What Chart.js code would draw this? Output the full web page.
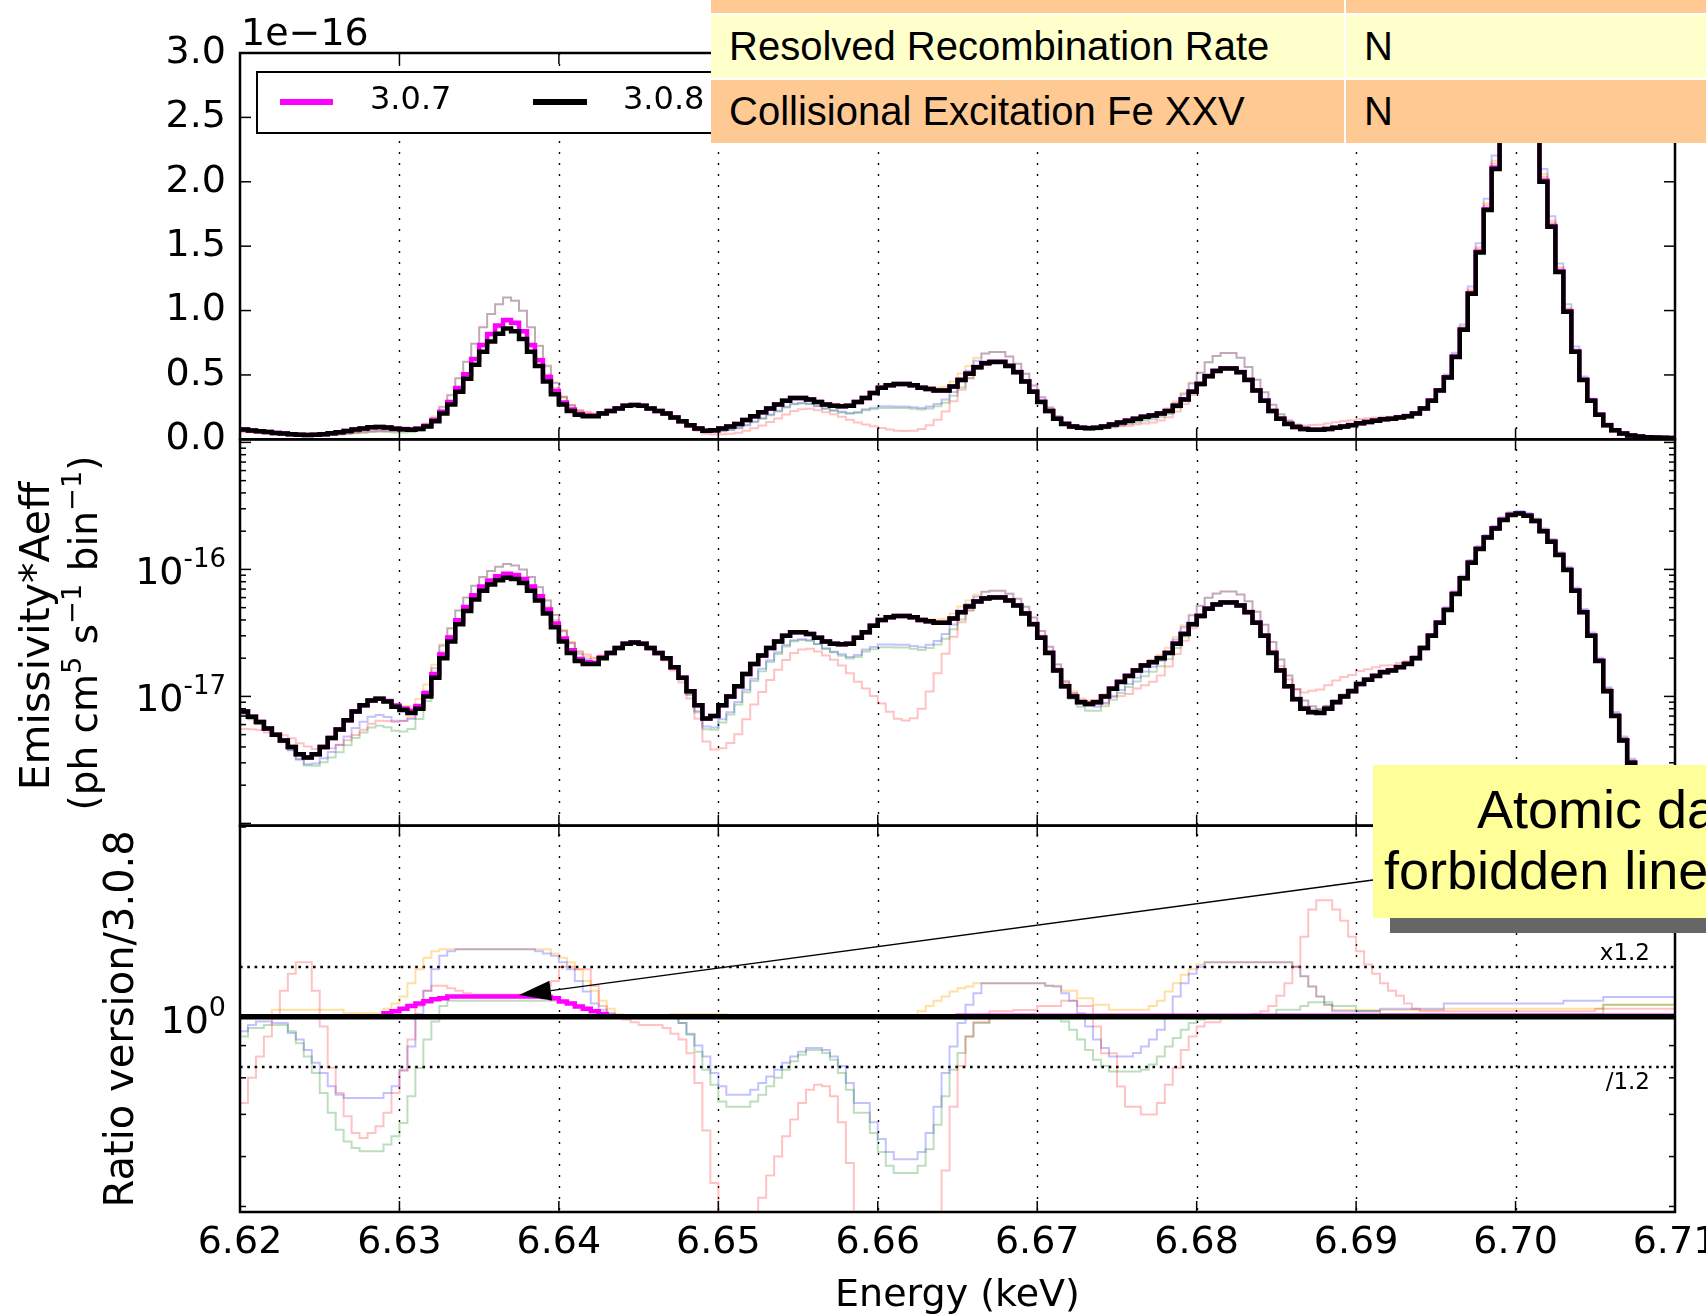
<!DOCTYPE html>
<html>
<head>
<meta charset="utf-8">
<script src="https://cdn.jsdelivr.net/npm/chart.js@4.4.1/dist/chart.umd.min.js"></script>
<style>
  html, body { margin: 0; padding: 0; background: #fff; }
  body { position: relative; width: 1706px; height: 1314px; overflow: hidden; }
  #spec { position: absolute; left: 0; top: 0; }
  .backdrop { position: absolute; background: #fff; }
  .cell { position: absolute; box-sizing: border-box; padding-left: 18px; display: flex; align-items: center;
          font-family: "Liberation Sans", Arial, sans-serif; font-size: 40px; color: #000; white-space: nowrap; }
  .or { background: #ffc994; }
  .ye { background: #ffffcc; }
  .note { position: absolute; background: #ffff99; overflow: visible; }
  .note div { position: absolute; font-family: "Liberation Sans", Arial, sans-serif; font-size: 54px; line-height: 54px; white-space: nowrap; color: #000; }
  .shadow { position: absolute; background: #666; }
</style>
</head>
<body>
<canvas id="spec" width="1706" height="1314"></canvas>

<div class="backdrop" style="left:711px;top:0;width:995px;height:143px"></div>
<div class="cell or" style="left:711px;top:0;width:633px;height:13px"></div>
<div class="cell or" style="left:1346px;top:0;width:360px;height:13px"></div>
<div class="cell ye" style="left:711px;top:15px;width:633px;height:63px">Resolved Recombination Rate</div>
<div class="cell ye" style="left:1346px;top:15px;width:360px;height:63px">N</div>
<div class="cell or" style="left:711px;top:80px;width:633px;height:63px">Collisional Excitation Fe XXV</div>
<div class="cell or" style="left:1346px;top:80px;width:360px;height:63px">N</div>

<div class="shadow" style="left:1390px;top:918px;width:330px;height:15px"></div>
<div class="note" style="left:1373px;top:765px;width:340px;height:153px">
  <div style="left:104px;top:17px">Atomic data</div>
  <div style="left:11px;top:78px">forbidden line</div>
</div>

<script>
// energy bins (keV), 0.5 eV wide
const binStart = 6.62;
const binWidth = 0.0005;
const xTicks = [6.62, 6.63, 6.64, 6.65, 6.66, 6.67, 6.68, 6.69, 6.70, 6.71];
const topTicks = [0, 0.5, 1, 1.5, 2, 2.5, 3];
const ratioGuides = [1.2, 1 / 1.2];

// 3.0.8 emissivity*Aeff per bin, in units of 1e-16 ph cm^5 s^-1 bin^-1
const emis308 = [
  0.076, 0.069, 0.063, 0.056, 0.050, 0.045, 0.040, 0.035, 0.033, 0.035,
  0.040, 0.047, 0.055, 0.065, 0.076, 0.085, 0.093, 0.096, 0.091, 0.083,
  0.078, 0.074, 0.080, 0.100, 0.140, 0.200, 0.270, 0.370, 0.470, 0.580,
  0.680, 0.760, 0.820, 0.860, 0.840, 0.780, 0.680, 0.570, 0.450, 0.350,
  0.270, 0.220, 0.190, 0.180, 0.180, 0.200, 0.220, 0.240, 0.260, 0.266,
  0.260, 0.240, 0.220, 0.200, 0.170, 0.140, 0.110, 0.085, 0.067, 0.070,
  0.085, 0.100, 0.120, 0.150, 0.180, 0.210, 0.240, 0.270, 0.300, 0.320,
  0.320, 0.310, 0.290, 0.270, 0.260, 0.257, 0.260, 0.290, 0.320, 0.360,
  0.400, 0.420, 0.430, 0.430, 0.420, 0.400, 0.390, 0.380, 0.380, 0.410,
  0.460, 0.510, 0.560, 0.590, 0.600, 0.600, 0.570, 0.520, 0.450, 0.370,
  0.290, 0.220, 0.160, 0.120, 0.100, 0.090, 0.087, 0.090, 0.100, 0.115,
  0.130, 0.145, 0.160, 0.175, 0.186, 0.200, 0.220, 0.260, 0.310, 0.370,
  0.430, 0.490, 0.530, 0.550, 0.550, 0.520, 0.460, 0.380, 0.300, 0.220,
  0.160, 0.120, 0.095, 0.080, 0.075, 0.074, 0.080, 0.090, 0.100, 0.110,
  0.125, 0.135, 0.145, 0.155, 0.160, 0.170, 0.180, 0.200, 0.240, 0.300,
  0.380, 0.480, 0.640, 0.850, 1.130, 1.450, 1.780, 2.100, 2.450, 2.680,
  2.750, 2.650, 2.400, 2.000, 1.650, 1.300, 0.990, 0.680, 0.460, 0.300,
  0.190, 0.110, 0.070, 0.045, 0.030, 0.022, 0.017, 0.014, 0.012, 0.011
];

// ratio version / 3.0.8 per bin
const ratio307 = [
  1.00, 1.00, 1.00, 1.00, 1.00, 1.00, 1.00, 1.00, 1.00, 1.00,
  1.00, 1.00, 1.00, 1.00, 1.00, 1.00, 1.00, 1.00, 1.013, 1.02,
  1.03, 1.04, 1.05, 1.058, 1.066, 1.07, 1.077, 1.077, 1.077, 1.077,
  1.077, 1.077, 1.077, 1.077, 1.077, 1.077, 1.077, 1.077, 1.075, 1.07,
  1.057, 1.05, 1.038, 1.03, 1.02, 1.01, 1.00, 1.00, 1.00, 1.00,
  1.00, 1.00, 1.00, 1.00, 1.00, 1.00, 1.00, 1.00, 1.00, 1.00,
  1.00, 1.00, 1.00, 1.00, 1.00, 1.00, 1.00, 1.00, 1.00, 1.00,
  1.00, 1.00, 1.00, 1.00, 1.00, 1.00, 1.00, 1.00, 1.00, 1.00,
  1.00, 1.00, 1.00, 1.00, 1.00, 1.00, 1.00, 1.00, 1.00, 1.00,
  1.004, 1.004, 1.004, 1.004, 1.004, 1.004, 1.004, 1.004, 1.004, 1.004,
  1.004, 1.004, 1.004, 1.004, 1.004, 1.004, 1.004, 1.004, 1.004, 1.004,
  1.004, 1.004, 1.004, 1.004, 1.004, 1.004, 1.004, 1.004, 1.004, 1.004,
  1.004, 1.004, 1.004, 1.004, 1.004, 1.004, 1.004, 1.004, 1.004, 1.004,
  1.004, 1.004, 1.004, 1.004, 1.004, 1.004, 1.004, 1.004, 1.004, 1.004,
  1.004, 1.004, 1.004, 1.004, 1.004, 1.004, 1.004, 1.004, 1.004, 1.004,
  1.004, 1.004, 1.004, 1.004, 1.004, 1.004, 1.004, 1.004, 1.004, 1.004,
  1.004, 1.004, 1.004, 1.004, 1.004, 1.004, 1.004, 1.004, 1.004, 1.004,
  1.004, 1.004, 1.004, 1.004, 1.004, 1.004, 1.004, 1.004, 1.004, 1.004
];

const ratioPink = [
  0.73, 0.80, 0.865, 0.93, 1.00, 1.10, 1.17, 1.22, 1.22, 1.10,
  0.965, 0.83, 0.757, 0.695, 0.654, 0.642, 0.654, 0.67, 0.704, 0.757,
  0.82, 0.92, 1.04, 1.10, 1.12, 1.12, 1.11, 1.10, 1.09, 1.085,
  1.085, 1.085, 1.085, 1.085, 1.085, 1.085, 1.09, 1.10, 1.12, 1.14,
  1.20, 1.20, 1.19, 1.19, 1.12, 1.04, 1.01, 1.00, 0.99, 0.98,
  0.97, 0.97, 0.97, 0.96, 0.94, 0.92, 0.875, 0.785, 0.66, 0.545,
  0.46, 0.43, 0.42, 0.44, 0.48, 0.516, 0.56, 0.60, 0.646, 0.687,
  0.73, 0.766, 0.78, 0.776, 0.748, 0.68, 0.586, 0.45, 0.36, 0.28,
  0.22, 0.18, 0.155, 0.15, 0.16, 0.20, 0.28, 0.40, 0.57, 0.72,
  0.835, 0.93, 0.98, 0.98, 1.02, 1.02, 1.02, 1.025, 1.025, 1.025,
  1.04, 1.04, 1.04, 1.06, 1.06, 1.04, 1.04, 0.965, 0.875, 0.875,
  0.775, 0.72, 0.72, 0.70, 0.70, 0.73, 0.78, 0.83, 0.886, 0.93,
  0.965, 0.98, 0.98, 1.00, 1.00, 1.00, 1.00, 1.01, 1.02, 1.04,
  1.08, 1.13, 1.20, 1.34, 1.48, 1.53, 1.53, 1.48, 1.42, 1.34,
  1.27, 1.21, 1.17, 1.13, 1.10, 1.08, 1.05, 1.03, 1.02, 1.02,
  1.02, 1.02, 1.02, 1.02, 1.02, 1.02, 1.02, 1.02, 1.02, 1.02,
  1.02, 1.02, 1.02, 1.02, 1.02, 1.02, 1.02, 1.02, 1.02, 1.02,
  1.03, 1.03, 1.03, 1.03, 1.03, 1.03, 1.03, 1.03, 1.03, 1.03
];

const ratioBlue = [
  0.948, 0.97, 0.983, 0.983, 0.977, 0.977, 0.942, 0.92, 0.886, 0.845,
  0.814, 0.776, 0.752, 0.743, 0.743, 0.743, 0.743, 0.743, 0.757, 0.776,
  0.824, 0.897, 1.01, 1.10, 1.19, 1.25, 1.27, 1.28, 1.28, 1.28,
  1.28, 1.28, 1.28, 1.28, 1.28, 1.28, 1.28, 1.27, 1.26, 1.25,
  1.22, 1.19, 1.14, 1.097, 1.05, 1.026, 1.013, 1.00, 1.00, 1.00,
  0.995, 0.995, 0.995, 0.995, 0.995, 0.977, 0.94, 0.90, 0.865, 0.814,
  0.776, 0.752, 0.752, 0.752, 0.766, 0.785, 0.804, 0.824, 0.845, 0.865,
  0.88, 0.892, 0.892, 0.886, 0.865, 0.835, 0.785, 0.73, 0.73, 0.68,
  0.64, 0.61, 0.594, 0.594, 0.594, 0.61, 0.654, 0.72, 0.814, 0.897,
  0.977, 1.045, 1.09, 1.13, 1.13, 1.13, 1.13, 1.13, 1.13, 1.13,
  1.13, 1.12, 1.117, 1.09, 1.06, 1.013, 0.965, 0.92, 0.892, 0.865,
  0.865, 0.865, 0.876, 0.897, 0.92, 0.954, 1.00, 1.077, 1.13, 1.17,
  1.20, 1.22, 1.22, 1.22, 1.22, 1.22, 1.22, 1.22, 1.22, 1.22,
  1.22, 1.22, 1.20, 1.16, 1.117, 1.077, 1.045, 1.02, 1.02, 1.02,
  1.02, 1.02, 1.02, 1.03, 1.03, 1.03, 1.03, 1.03, 1.03, 1.03,
  1.03, 1.05, 1.05, 1.05, 1.05, 1.05, 1.05, 1.05, 1.05, 1.05,
  1.05, 1.05, 1.05, 1.05, 1.05, 1.05, 1.06, 1.06, 1.06, 1.06,
  1.06, 1.075, 1.075, 1.075, 1.075, 1.075, 1.075, 1.075, 1.075, 1.075
];

const ratioGreen = [
  0.93, 0.96, 0.96, 0.97, 0.97, 0.97, 0.948, 0.908, 0.865, 0.814,
  0.757, 0.704, 0.662, 0.634, 0.619, 0.612, 0.612, 0.612, 0.627, 0.646,
  0.678, 0.748, 0.829, 0.92, 0.983, 1.04, 1.06, 1.06, 1.06, 1.06,
  1.06, 1.06, 1.06, 1.06, 1.06, 1.06, 1.06, 1.06, 1.06, 1.06,
  1.06, 1.05, 1.04, 1.03, 1.02, 1.00, 1.00, 1.00, 1.00, 1.00,
  0.995, 0.995, 0.995, 0.995, 0.995, 0.977, 0.936, 0.88, 0.824, 0.78,
  0.734, 0.72, 0.72, 0.72, 0.734, 0.752, 0.776, 0.80, 0.824, 0.85,
  0.87, 0.886, 0.886, 0.876, 0.855, 0.814, 0.766, 0.704, 0.704, 0.654,
  0.61, 0.58, 0.565, 0.565, 0.565, 0.58, 0.616, 0.674, 0.748, 0.824,
  0.876, 0.93, 0.977, 0.977, 1.00, 1.00, 1.00, 1.00, 1.00, 1.00,
  1.00, 1.00, 1.00, 0.983, 0.954, 0.92, 0.886, 0.855, 0.835, 0.819,
  0.819, 0.819, 0.819, 0.824, 0.84, 0.865, 0.897, 0.925, 0.954, 0.977,
  0.99, 1.005, 1.005, 1.005, 1.005, 1.005, 1.005, 1.005, 1.005, 1.005,
  1.026, 1.026, 1.026, 1.04, 1.054, 1.054, 1.054, 1.04, 1.04, 1.04,
  1.02, 1.02, 1.02, 1.01, 1.01, 1.01, 1.01, 1.01, 1.01, 1.01,
  1.01, 1.01, 1.01, 1.01, 1.01, 1.01, 1.01, 1.01, 1.01, 1.01,
  1.01, 1.01, 1.01, 1.01, 1.01, 1.01, 1.01, 1.01, 1.01, 1.01,
  1.01, 1.045, 1.045, 1.045, 1.045, 1.045, 1.045, 1.045, 1.045, 1.045
];

const ratioOrange = [
  1.00, 1.00, 1.00, 1.00, 1.026, 1.026, 1.026, 1.026, 1.026, 1.026,
  1.026, 1.026, 1.026, 1.013, 1.013, 1.013, 1.013, 1.013, 1.03, 1.05,
  1.077, 1.13, 1.19, 1.24, 1.27, 1.28, 1.28, 1.28, 1.28, 1.28,
  1.28, 1.28, 1.28, 1.28, 1.28, 1.28, 1.28, 1.28, 1.28, 1.26,
  1.24, 1.22, 1.19, 1.14, 1.10, 1.06, 1.03, 1.01, 1.00, 1.00,
  1.00, 1.00, 1.00, 1.00, 1.01, 1.01, 1.01, 1.01, 1.01, 1.01,
  1.01, 1.00, 1.00, 1.00, 1.00, 1.00, 1.00, 1.00, 1.00, 1.00,
  1.00, 1.00, 1.00, 1.00, 1.00, 1.00, 1.00, 1.00, 1.00, 1.00,
  1.00, 1.00, 1.00, 1.00, 1.00, 1.02, 1.04, 1.06, 1.077, 1.097,
  1.11, 1.117, 1.13, 1.13, 1.13, 1.13, 1.13, 1.13, 1.13, 1.13,
  1.13, 1.12, 1.12, 1.10, 1.10, 1.07, 1.07, 1.045, 1.045, 1.026,
  1.026, 1.026, 1.026, 1.026, 1.04, 1.06, 1.097, 1.13, 1.166, 1.19,
  1.21, 1.22, 1.22, 1.22, 1.22, 1.22, 1.22, 1.22, 1.22, 1.22,
  1.22, 1.22, 1.20, 1.16, 1.117, 1.077, 1.045, 1.025, 1.025, 1.025,
  1.025, 1.025, 1.025, 1.025, 1.025, 1.025, 1.025, 1.025, 1.025, 1.025,
  1.025, 1.03, 1.03, 1.03, 1.03, 1.03, 1.03, 1.03, 1.03, 1.03,
  1.03, 1.03, 1.03, 1.03, 1.03, 1.03, 1.03, 1.03, 1.03, 1.03,
  1.03, 1.045, 1.045, 1.045, 1.045, 1.045, 1.045, 1.045, 1.045, 1.045
];

// where the annotation arrow points (energy, ratio)
const arrowTip = [6.6375, 1.083];

Chart.defaults.font.family = '"DejaVu Sans", sans-serif';
Chart.defaults.color = '#000';

const edges = emis308.map((_, i) => +(binStart + i * binWidth).toFixed(4));
edges.push(+(binStart + emis308.length * binWidth).toFixed(4));

// histogram steps: value held from the left edge of each bin to the next edge
function steps(vals) {
  const pts = vals.map((v, i) => ({ x: edges[i], y: v }));
  pts.push({ x: edges[vals.length], y: vals[vals.length - 1] });
  return pts;
}

const ones = emis308.map(() => 1);
const series = [
  { ratio: ones, color: '#000000', width: [4.5, 4.5, 5.5], order: 0 },
  { ratio: ratio307, color: '#ff00ff', width: [4.5, 4.5, 4.5], order: 1 },
  { ratio: ratioPink, color: 'rgba(255,0,0,0.24)', width: [2, 2, 2], order: 2 },
  { ratio: ratioGreen, color: 'rgba(0,128,0,0.26)', width: [2, 2, 2], order: 3 },
  { ratio: ratioBlue, color: 'rgba(0,0,255,0.24)', width: [2, 2, 2], order: 4 },
  { ratio: ratioOrange, color: 'rgba(255,165,0,0.36)', width: [2, 2, 2], order: 5 },
];

const datasets = [];
series.forEach((s) => {
  const emis = emis308.map((v, i) => v * s.ratio[i]);
  [['yTop', emis], ['yMid', emis], ['yBot', s.ratio]].forEach(([axis, vals], k) => {
    datasets.push({
      data: steps(vals),
      yAxisID: axis,
      borderColor: s.color,
      borderWidth: s.width[k],
      order: s.order,
      stepped: 'before',
      pointRadius: 0,
      fill: false,
      tension: 0,
    });
  });
});

const fontStr = (size) => `${size}px "DejaVu Sans", sans-serif`;

function strokeLine(ctx, x0, y0, x1, y1) {
  ctx.beginPath();
  ctx.moveTo(x0, y0);
  ctx.lineTo(x1, y1);
  ctx.stroke();
}

// "10" with a raised exponent, right-aligned
function powerLabel(ctx, right, py, exp, baseSize, expSize, baseDy, expDy) {
  ctx.textAlign = 'left';
  ctx.textBaseline = 'alphabetic';
  ctx.font = fontStr(expSize);
  const we = ctx.measureText(exp).width;
  ctx.fillText(exp, right - we, py + expDy);
  ctx.font = fontStr(baseSize);
  const wb = ctx.measureText('10').width;
  ctx.fillText('10', right - we - wb, py + baseDy);
}

// rotated text made of plain / superscript pieces, centred on (cx, cy)
function verticalText(ctx, cx, cy, parts, size) {
  ctx.save();
  ctx.translate(cx, cy);
  ctx.rotate(-Math.PI / 2);
  ctx.textAlign = 'left';
  ctx.textBaseline = 'alphabetic';
  const widths = parts.map(([t, sup]) => {
    ctx.font = fontStr(sup ? size * 0.7 : size);
    return ctx.measureText(t).width;
  });
  let px = -widths.reduce((a, b) => a + b, 0) / 2;
  parts.forEach(([t, sup], k) => {
    ctx.font = fontStr(sup ? size * 0.7 : size);
    ctx.fillText(t, px, sup ? -size * 0.06 : size * 0.36);
    px += widths[k];
  });
  ctx.restore();
}

const decor = {
  id: 'decor',
  beforeDatasetsDraw(chart) {
    const { ctx, chartArea: a, scales: { x, yBot } } = chart;
    ctx.save();
    ctx.strokeStyle = '#000';
    ctx.lineWidth = 1.4;
    ctx.setLineDash([2, 9]);
    xTicks.slice(1, -1).forEach((v) => {
      const px = Math.round(x.getPixelForValue(v)) + 0.5;
      strokeLine(ctx, px, a.top, px, a.bottom);
    });
    ctx.lineWidth = 2.6;
    ctx.setLineDash([2.6, 4.7]);
    ratioGuides.forEach((r) => {
      const py = Math.round(yBot.getPixelForValue(r));
      strokeLine(ctx, a.left, py, a.right, py);
    });
    ctx.restore();
  },
  afterDatasetsDraw(chart) {
    const { ctx, chartArea: a, scales } = chart;
    const { x, yTop, yMid, yBot } = scales;
    const panels = [yTop, yMid, yBot];
    ctx.save();
    ctx.strokeStyle = '#000';
    ctx.setLineDash([]);
    ctx.lineWidth = 1.5;
    panels.forEach((s) => {
      xTicks.forEach((v) => {
        const px = x.getPixelForValue(v);
        strokeLine(ctx, px, s.top, px, s.top + 11);
        strokeLine(ctx, px, s.bottom, px, s.bottom - 11);
      });
    });
    const yTick = (s, v, len) => {
      const py = s.getPixelForValue(v);
      if (py < s.top - 0.5 || py > s.bottom + 0.5) return;
      strokeLine(ctx, a.left, py, a.left + len, py);
      strokeLine(ctx, a.right, py, a.right - len, py);
    };
    topTicks.forEach((v) => yTick(yTop, v, 11));
    [0.01, 0.1, 1, 10].forEach((d) => {
      yTick(yMid, d, 11);
      [2, 3, 4, 5, 6, 7, 8, 9].forEach((m) => yTick(yMid, d * m, 6));
    });
    yTick(yBot, 1, 11);
    [0.5, 0.6, 0.7, 0.8, 0.9, 2].forEach((v) => yTick(yBot, v, 6));
    ctx.lineWidth = 2.5;
    panels.forEach((s) => ctx.strokeRect(a.left, s.top, a.right - a.left, s.bottom - s.top));

    // annotation arrow
    const tx = x.getPixelForValue(arrowTip[0]);
    const ty = yBot.getPixelForValue(arrowTip[1]);
    const sx = 1373, sy = 880;
    const ang = Math.atan2(sy - ty, sx - tx);
    const hl = 32, hw = 10;
    const bx = tx + hl * Math.cos(ang), by = ty + hl * Math.sin(ang);
    ctx.lineWidth = 1.3;
    strokeLine(ctx, sx, sy, bx, by);
    ctx.fillStyle = '#000';
    ctx.beginPath();
    ctx.moveTo(tx, ty);
    ctx.lineTo(bx - hw * Math.sin(ang), by + hw * Math.cos(ang));
    ctx.lineTo(bx + hw * Math.sin(ang), by - hw * Math.cos(ang));
    ctx.closePath();
    ctx.fill();
    ctx.restore();
  },
  afterDraw(chart) {
    const { ctx, chartArea: a, scales: { yTop, yMid, yBot } } = chart;
    ctx.save();
    ctx.fillStyle = '#000';

    ctx.font = fontStr(38);
    ctx.textAlign = 'left';
    ctx.textBaseline = 'alphabetic';
    ctx.fillText('1e\u221216', a.left + 1, 45);

    powerLabel(ctx, 226, yMid.getPixelForValue(1), '-16', 38, 26, 15, -2);
    powerLabel(ctx, 226, yMid.getPixelForValue(0.1), '-17', 38, 26, 15, -2);
    powerLabel(ctx, 226, yBot.getPixelForValue(1), '0', 38, 27, 16, -1);

    ctx.font = fontStr(23);
    ctx.textAlign = 'right';
    ctx.fillText('x1.2', a.right - 25, yBot.getPixelForValue(1.2) - 7);
    ctx.fillText('/1.2', a.right - 25, yBot.getPixelForValue(1 / 1.2) + 22);

    // legend
    const lx = a.left + 17, ly = yTop.top + 19;
    ctx.fillStyle = '#fff';
    ctx.fillRect(lx, ly, 560, 61);
    ctx.strokeStyle = '#000';
    ctx.lineWidth = 2;
    ctx.strokeRect(lx, ly, 560, 61);
    ctx.lineWidth = 6;
    ctx.strokeStyle = '#ff00ff';
    strokeLine(ctx, lx + 23, ly + 30, lx + 76, ly + 30);
    ctx.strokeStyle = '#000';
    strokeLine(ctx, lx + 276, ly + 30, lx + 330, ly + 30);
    ctx.fillStyle = '#000';
    ctx.font = fontStr(32);
    ctx.textAlign = 'left';
    ctx.textBaseline = 'middle';
    ctx.fillText('3.0.7', lx + 113, ly + 29);
    ctx.fillText('3.0.8', lx + 366, ly + 29);

    // axis titles
    verticalText(ctx, 34, 636, [['Emissivity*Aeff', false]], 41);
    verticalText(ctx, 83, 633, [['(ph cm', false], ['5', true], [' s', false], ['\u22121', true],
      [' bin', false], ['\u22121', true], [')', false]], 39);
    verticalText(ctx, 119, (yBot.top + yBot.bottom) / 2, [['Ratio version/3.0.8', false]], 40);
    ctx.font = fontStr(38);
    ctx.textAlign = 'center';
    ctx.textBaseline = 'alphabetic';
    ctx.fillText('Energy (keV)', (a.left + a.right) / 2, 1306);
    ctx.restore();
  },
};

const stackedY = (extra) => Object.assign({
  position: 'left',
  stack: 'panels',
  stackWeight: 1,
  grid: { display: false },
  border: { display: false },
  afterFit(s) { s.width = 240; s.paddingTop = 0; s.paddingBottom = 0; },
}, extra);

new Chart(document.getElementById('spec'), {
  type: 'line',
  data: { datasets },
  options: {
    responsive: false,
    animation: false,
    events: [],
    parsing: false,
    layout: { padding: { left: 0, right: 31, top: 53, bottom: 0 } },
    plugins: { legend: { display: false }, tooltip: { enabled: false } },
    scales: {
      x: {
        type: 'linear',
        position: 'bottom',
        min: 6.62,
        max: 6.71,
        grid: { display: false },
        border: { display: false },
        afterBuildTicks(s) { s.ticks = xTicks.map((v) => ({ value: v })); },
        afterFit(s) { s.height = 102; s.paddingLeft = 0; s.paddingRight = 0; },
        ticks: { font: { size: 38 }, padding: 0, maxRotation: 0, autoSkip: false, callback: (v) => v.toFixed(2) },
      },
      yTop: stackedY({
        type: 'linear',
        weight: 3,
        min: 0,
        max: 3,
        afterBuildTicks(s) { s.ticks = topTicks.map((v) => ({ value: v })); },
        ticks: { font: { size: 38 }, padding: 6, autoSkip: false, callback: (v) => v.toFixed(1) },
      }),
      yMid: stackedY({
        type: 'logarithmic',
        weight: 2,
        min: 0.0096,
        max: 10.57,
        ticks: { display: false },
      }),
      yBot: stackedY({
        type: 'logarithmic',
        weight: 1,
        min: 0.49,
        max: 2.01,
        ticks: { display: false },
      }),
    },
  },
  plugins: [decor],
});
</script>
</body>
</html>
